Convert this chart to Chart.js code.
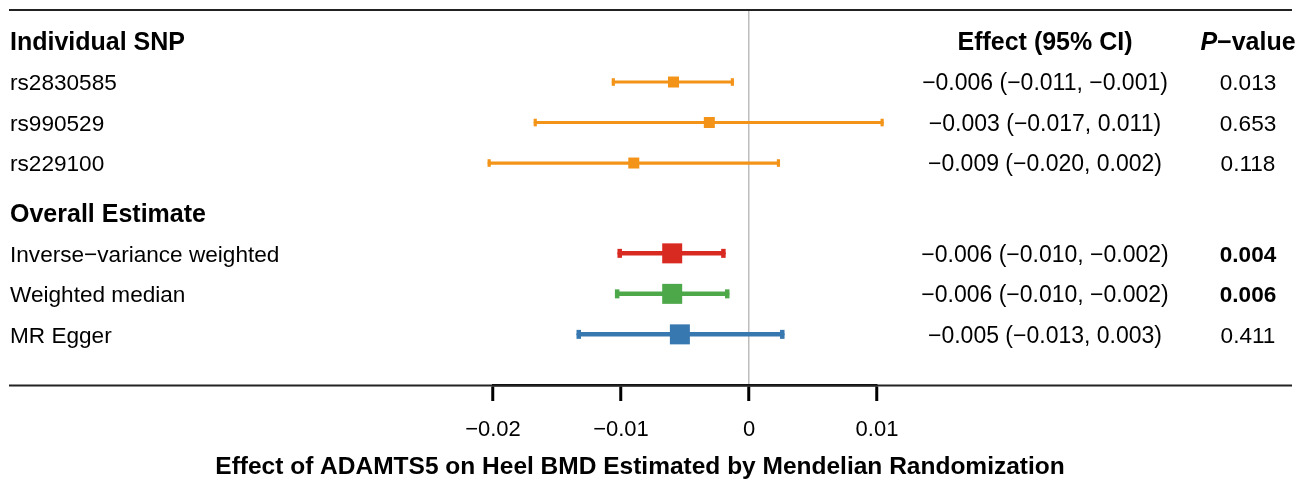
<!DOCTYPE html>
<html>
<head>
<meta charset="utf-8">
<script src="https://cdn.jsdelivr.net/npm/chart.js@4.4.1/dist/chart.umd.min.js"></script>
<style>
  html, body { margin: 0; padding: 0; background: #fff; }
  #wrap { width: 1306px; height: 482px; }
</style>
</head>
<body>
<div id="wrap"><canvas id="forest" width="1306" height="482"></canvas></div>
<script>
// values
const snpNames = ['rs2830585', 'rs990529', 'rs229100'];
const snpEst = [-0.0059, -0.0031, -0.0090];
const snpLow = [-0.0106, -0.0167, -0.0203];
const snpHigh = [-0.0013, 0.0104, 0.0023];
const snpEffectText = ['\u22120.006 (\u22120.011, \u22120.001)', '\u22120.003 (\u22120.017, 0.011)', '\u22120.009 (\u22120.020, 0.002)'];
const snpP = [0.013, 0.653, 0.118];

const methodNames = ['Inverse\u2212variance weighted', 'Weighted median', 'MR Egger'];
const methodEst = [-0.0060, -0.0060, -0.0054];
const methodLow = [-0.0101, -0.0103, -0.0133];
const methodHigh = [-0.0020, -0.0017, 0.0026];
const methodEffectText = ['\u22120.006 (\u22120.010, \u22120.002)', '\u22120.006 (\u22120.010, \u22120.002)', '\u22120.005 (\u22120.013, 0.003)'];
const methodP = [0.004, 0.006, 0.411];

const xTicks = [-0.02, -0.01, 0, 0.01];

// styling
const FONT = "'Liberation Sans', Arial, Helvetica, sans-serif";
const snpColor = '#F39419';
const methodColors = ['#D92A22', '#4DA84A', '#3878B0'];
const GROUP2 = 4.23;          // y position of the "Overall Estimate" header row
const EFFECT_X = 1045, P_X = 1248, LABEL_X = 10;
const TOP = 10, BOTTOM = 385;
const TEXT_DY = 2;            // nudge so glyphs sit centred on the marks

const snpRows = snpNames.map((_, i) => i + 1);
const methodRows = methodNames.map((_, i) => GROUP2 + i + 1);

function fmtTick(v) {
    const r = Math.round(v * 100) / 100;
    if (r === 0) return '0';
    return (r < 0 ? '\u2212' : '') + Math.abs(r).toFixed(2);
}

function ciDataset(lo, hi, y, color, width, capR) {
    return {
        type: 'scatter',
        showLine: true,
        data: [{x: lo, y: y}, {x: hi, y: y}],
        borderColor: color,
        borderWidth: width,
        borderCapStyle: 'round',
        pointStyle: 'line',
        rotation: 90,
        pointRadius: capR,
        pointHoverRadius: capR,
        pointBorderWidth: width,
        pointBorderColor: color,
        clip: false,
        order: 2
    };
}

const datasets = [];
snpNames.forEach((n, i) => datasets.push(ciDataset(snpLow[i], snpHigh[i], snpRows[i], snpColor, 3.2, 3.8)));
methodNames.forEach((n, i) => datasets.push(ciDataset(methodLow[i], methodHigh[i], methodRows[i], methodColors[i], 4.5, 4.5)));

// squares (point estimates), pointStyle 'rect' side = radius * sqrt(2)
datasets.push({
    type: 'scatter',
    data: snpEst.map((v, i) => ({x: v, y: snpRows[i]})).concat(methodEst.map((v, i) => ({x: v, y: methodRows[i]}))),
    pointStyle: 'rect',
    pointRadius: snpEst.map(() => 11 / Math.SQRT2).concat(methodEst.map(() => 20 / Math.SQRT2)),
    backgroundColor: snpEst.map(() => snpColor).concat(methodColors),
    borderWidth: 0,
    pointBorderWidth: 0,
    clip: false,
    order: 0
});

const tablePlugin = {
    id: 'forestTable',
    afterDraw(chart) {
        const ctx = chart.ctx;
        const ys = chart.scales.y;
        const rowY = v => ys.getPixelForValue(v) + TEXT_DY;
        ctx.save();
        // top and bottom rules
        ctx.strokeStyle = '#222';
        ctx.lineWidth = 2;
        ctx.beginPath();
        ctx.moveTo(9, TOP); ctx.lineTo(1292, TOP);
        ctx.moveTo(9, BOTTOM + 0.5); ctx.lineTo(1292, BOTTOM + 0.5);
        ctx.stroke();

        ctx.fillStyle = '#000';
        ctx.textBaseline = 'middle';

        // headers
        const boldFont = 'bold 25px ' + FONT;
        const italFont = 'italic bold 25px ' + FONT;
        ctx.font = boldFont;
        ctx.textAlign = 'left';
        ctx.fillText('Individual SNP', LABEL_X, rowY(0));
        ctx.fillText('Overall Estimate', LABEL_X, rowY(GROUP2));
        ctx.textAlign = 'center';
        ctx.fillText('Effect (95% CI)', EFFECT_X, rowY(0));

        // P-value header with italic P
        ctx.font = italFont;
        const wP = ctx.measureText('P').width;
        ctx.font = boldFont;
        const wRest = ctx.measureText('\u2212value').width;
        const x0 = P_X - (wP + wRest) / 2;
        ctx.textAlign = 'left';
        ctx.font = italFont;
        ctx.fillText('P', x0, rowY(0));
        ctx.font = boldFont;
        ctx.fillText('\u2212value', x0 + wP, rowY(0));

        // rows
        function drawRow(name, effect, p, y) {
            const py = rowY(y);
            ctx.font = '22.6px ' + FONT;
            ctx.textAlign = 'left';
            ctx.fillText(name, LABEL_X, py);
            ctx.font = '23px ' + FONT;
            ctx.textAlign = 'center';
            ctx.fillText(effect, EFFECT_X, py);
            ctx.font = (p < 0.01 ? 'bold ' : '') + '22.6px ' + FONT;
            ctx.fillText(p.toFixed(3), P_X, py);
        }
        snpNames.forEach((n, i) => drawRow(n, snpEffectText[i], snpP[i], snpRows[i]));
        methodNames.forEach((n, i) => drawRow(n, methodEffectText[i], methodP[i], methodRows[i]));

        // axis title
        ctx.font = 'bold 24.5px ' + FONT;
        ctx.textAlign = 'center';
        ctx.fillText('Effect of ADAMTS5 on Heel BMD Estimated by Mendelian Randomization', 640, 467);
        ctx.restore();
    }
};

new Chart(document.getElementById('forest'), {
    type: 'scatter',
    data: { datasets: datasets },
    options: {
        responsive: false,
        devicePixelRatio: 1,
        animation: false,
        events: [],
        layout: {
            autoPadding: false,
            padding: { left: 493, right: 1306 - 877, top: TOP, bottom: 482 - BOTTOM - 60 }
        },
        plugins: { legend: { display: false }, tooltip: { enabled: false } },
        scales: {
            x: {
                type: 'linear',
                min: -0.02,
                max: 0.01,
                afterBuildTicks: s => { s.ticks = xTicks.map(v => ({value: v})); },
                afterFit: s => { s.height = 60; },
                ticks: {
                    callback: v => fmtTick(v),
                    font: { family: FONT, size: 22 },
                    color: '#000',
                    padding: 16,
                    maxRotation: 0,
                    autoSkip: false
                },
                grid: {
                    color: c => (c.tick && c.tick.value === 0) ? '#bdbdbd' : 'rgba(0,0,0,0)',
                    lineWidth: 1.5,
                    tickLength: 16,
                    tickColor: '#000',
                    tickWidth: 3
                },
                border: { display: true, color: '#000', width: 2.5 }
            },
            y: {
                type: 'linear',
                reverse: true,
                min: -0.778,
                max: 8.48,
                display: false
            }
        }
    },
    plugins: [tablePlugin]
});
</script>
</body>
</html>
